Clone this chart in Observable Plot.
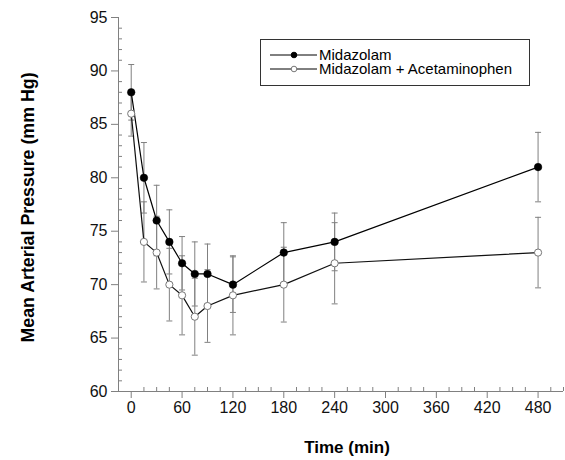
<!DOCTYPE html>
<html><head><meta charset="utf-8">
<script src="https://cdn.jsdelivr.net/npm/d3@7"></script>
<script src="https://cdn.jsdelivr.net/npm/@observablehq/plot@0.6"></script>
<style>
body{margin:0;background:#fff;font-family:"Liberation Sans",Arial,sans-serif;}
#wrap{position:relative;width:565px;height:460px;}
#legend{position:absolute;left:260px;top:39px;width:268px;height:45px;border:1px solid #333;background:#fff;}
</style></head><body><div id="wrap"><div id="chart"></div><div id="legend"></div></div>
<script>
const times = [0, 15, 30, 45, 60, 75, 90, 120, 180, 240, 480];
const midazolam = [88, 80, 76, 74, 72, 71, 71, 70, 73, 74, 81];
const midazolamErr = [2.6, 3.3, 3.3, 3.0, 2.5, 3.0, 2.8, 2.6, 2.8, 2.7, 3.25];
const combo = [86, 74, 73, 70, 69, 67, 68, 69, 70, 72, 73];
const comboErr = [2.1, 3.75, 3.4, 3.4, 3.7, 3.6, 3.4, 3.7, 3.5, 3.8, 3.3];
const seriesNames = ["Midazolam", "Midazolam + Acetaminophen"];
const xTickLabels = [0, 60, 120, 180, 240, 300, 360, 420, 480];
const yTickLabels = [60, 65, 70, 75, 80, 85, 90, 95];
const xTitle = "Time (min)";
const yTitle = "Mean Arterial Pressure (mm Hg)";

const xMinor = d3.range(15, 511, 15).filter(v => v % 60 !== 0);
const yMinor = d3.range(61, 95, 1).filter(v => v % 5 !== 0);

const mData = times.map((t, i) => ({t, y: midazolam[i], lo: midazolam[i] - midazolamErr[i], hi: midazolam[i] + midazolamErr[i]}));
const cData = times.map((t, i) => ({t, y: combo[i], lo: combo[i] - comboErr[i], hi: combo[i] + comboErr[i]}));
const allData = [...mData, ...cData];

const capSymbol = {draw(ctx) { ctx.moveTo(-3, 0); ctx.lineTo(3, 0); }};
const gray = "#808080";

const chart = Plot.plot({
  width: 565, height: 460,
  marginLeft: 118, marginRight: 2, marginTop: 17, marginBottom: 69,
  style: {fontFamily: '"Liberation Sans", Arial, sans-serif', fontSize: "16px", background: "#fff", color: "#111"},
  x: {domain: [-15, 510]},
  y: {domain: [60, 95]},
  marks: [
    Plot.ruleX([-15], {stroke: gray}),
    Plot.ruleY([60], {stroke: gray}),
    Plot.axisY({ticks: yTickLabels, tickSize: 7, tickPadding: 4, stroke: gray, fill: "#111", label: null, tickFormat: d => String(d)}),
    Plot.axisY({ticks: yMinor, tickSize: 4, dx: 4, stroke: gray, label: null, tickFormat: () => ""}),
    Plot.axisX({ticks: xTickLabels, tickSize: 7, tickPadding: 3, stroke: gray, fill: "#111", label: null, tickFormat: d => String(d)}),
    Plot.axisX({ticks: xMinor, tickSize: 4, dy: -4, stroke: gray, label: null, tickFormat: () => ""}),
    Plot.ruleX(allData, {x: "t", y1: "lo", y2: "hi", stroke: gray, strokeWidth: 1}),
    Plot.dot(allData, {x: "t", y: "lo", symbol: capSymbol, stroke: gray, strokeWidth: 1}),
    Plot.dot(allData, {x: "t", y: "hi", symbol: capSymbol, stroke: gray, strokeWidth: 1}),
    Plot.line(cData, {x: "t", y: "y", stroke: "#111", strokeWidth: 1.2}),
    Plot.line(mData, {x: "t", y: "y", stroke: "#000", strokeWidth: 1.2}),
    Plot.dot(cData, {x: "t", y: "y", r: 3.6, fill: "#fff", stroke: "#777", strokeWidth: 1}),
    Plot.dot(mData, {x: "t", y: "y", r: 3.8, fill: "#000", stroke: "#000", strokeWidth: 0.5}),
    Plot.text([yTitle], {text: d => d, frameAnchor: "left", textAnchor: "middle", lineAnchor: "middle", dx: -90, dy: 3, rotate: -90, fontWeight: "bold", fontSize: 17.8, fill: "#000"}),
    Plot.text([xTitle], {text: d => d, frameAnchor: "bottom", textAnchor: "middle", lineAnchor: "middle", dx: 6, dy: 56, fontWeight: "bold", fontSize: 17, fill: "#000"})
  ]
});
document.getElementById("chart").appendChild(chart);

const lg = d3.select("#legend").append("svg").attr("width", 268).attr("height", 45)
  .style("font-family", '"Liberation Sans", Arial, sans-serif').style("font-size", "15px");
const rows = [
  {name: seriesNames[0], y: 15, fill: "#000", stroke: "#000"},
  {name: seriesNames[1], y: 29, fill: "#fff", stroke: "#777"}
];
rows.forEach(r => {
  lg.append("line").attr("x1", 9).attr("x2", 56).attr("y1", r.y).attr("y2", r.y).attr("stroke", "#000").attr("stroke-width", 1);
  lg.append("circle").attr("cx", 33).attr("cy", r.y).attr("r", 2.8).attr("fill", r.fill).attr("stroke", r.stroke);
  lg.append("text").attr("x", 58).attr("y", r.y).attr("dy", "0.35em").attr("fill", "#000").text(r.name);
});
</script>
</body></html>
